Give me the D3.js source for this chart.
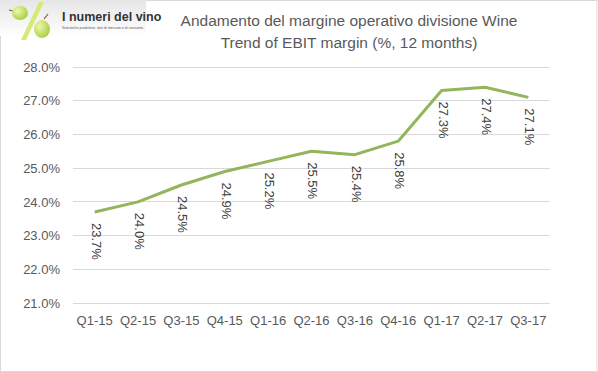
<!DOCTYPE html>
<html><head><meta charset="utf-8">
<script src="https://cdn.jsdelivr.net/npm/d3@7"></script>
<style>body{margin:0;background:#fff}svg{display:block}</style>
</head><body>
<svg id="c" width="598" height="372"></svg>
<script>
const categories = ["Q1-15","Q2-15","Q3-15","Q4-15","Q1-16","Q2-16","Q3-16","Q4-16","Q1-17","Q2-17","Q3-17"];
const values = [23.7, 24.0, 24.5, 24.9, 25.2, 25.5, 25.4, 25.8, 27.3, 27.4, 27.1];
const yTicks = [21, 22, 23, 24, 25, 26, 27, 28];
const titleLines = ["Andamento del margine operativo divisione Wine", "Trend of EBIT margin (%, 12 months)"];

const svg = d3.select("#c");
const W = 598, H = 372;
const m = {left: 73, right: 48, top: 67, bottom: 69};

svg.append("rect").attr("x",0.5).attr("y",0.5).attr("width",W-1.5).attr("height",H-1)
  .attr("fill","#fff").attr("stroke","#d9d9d9");

// logo
const defs = svg.append("defs");
const lg = defs.append("linearGradient").attr("id","lg").attr("x1",0).attr("x2",0).attr("y1",0).attr("y2",1);
lg.append("stop").attr("offset",0).attr("stop-color","#e6e6e6");
lg.append("stop").attr("offset",1).attr("stop-color","#ffffff");
const gg = defs.append("radialGradient").attr("id","gg").attr("cx",0.35).attr("cy",0.35).attr("r",0.7);
gg.append("stop").attr("offset",0).attr("stop-color","#eef7b0");
gg.append("stop").attr("offset",1).attr("stop-color","#a9cf3c");
const logo = svg.append("g");
logo.append("rect").attr("x",0).attr("y",0).attr("width",146).attr("height",36).attr("fill","url(#lg)");
logo.append("path").attr("d","M39,2 L44,2 L26,40 L21,40 Z").attr("fill","#d6ea7a");
logo.append("path").attr("d","M13,11 L9,10").attr("stroke","#7a5a2a").attr("stroke-width",1.2);
logo.append("ellipse").attr("cx",20).attr("cy",13).attr("rx",8).attr("ry",7).attr("fill","url(#gg)");
logo.append("path").attr("d","M44,19 L48,14").attr("stroke","#7a5a2a").attr("stroke-width",1.2);
logo.append("ellipse").attr("cx",42).attr("cy",29).attr("rx",8).attr("ry",9).attr("fill","url(#gg)");
logo.append("text").attr("x",62).attr("y",21).attr("font-family","Liberation Sans Narrow, Liberation Sans, sans-serif")
  .attr("font-size",12.5).attr("font-weight","bold").attr("fill","#333").text("I numeri del vino");
logo.append("text").attr("x",62).attr("y",29).attr("font-family","Liberation Sans, sans-serif")
  .attr("font-size",3.5).attr("fill","#555").attr("textLength",82).text("Statistiche produttive, dati di mercato e di consumo,");

// title
svg.append("g").selectAll("text").data(titleLines).join("text")
  .attr("x", 349).attr("y",(d,i)=>26+i*22).attr("text-anchor","middle")
  .attr("font-family","Liberation Sans, Arial, sans-serif").attr("font-size",15.5)
  .attr("fill","#595959").text(d=>d);

const x = d3.scaleBand().domain(categories).range([m.left, W - m.right]);
const y = d3.scaleLinear().domain([21, 28]).range([H - m.bottom, m.top]);

// grid
svg.append("g").selectAll("line").data(yTicks).join("line")
  .attr("x1", m.left).attr("x2", W - m.right)
  .attr("y1", d=>y(d)).attr("y2", d=>y(d))
  .attr("stroke","#d9d9d9").attr("stroke-width",1).attr("shape-rendering","crispEdges");

// y axis
const yAxis = svg.append("g").attr("transform",`translate(${m.left},0)`)
  .call(d3.axisLeft(y).tickValues(yTicks).tickFormat(d=>d3.format(".1f")(d)+"%").tickSize(0).tickPadding(13));
yAxis.select(".domain").remove();
yAxis.selectAll("text").attr("font-family","Liberation Sans, Arial, sans-serif").attr("font-size",13).attr("fill","#595959");

// x axis
const xAxis = svg.append("g").attr("transform",`translate(0,${H - m.bottom})`)
  .call(d3.axisBottom(x).tickSize(0).tickPadding(13));
xAxis.select(".domain").remove();
xAxis.selectAll("text").attr("font-family","Liberation Sans, Arial, sans-serif").attr("font-size",13).attr("fill","#595959");

// line
const cx = d => x(d) + x.bandwidth()/2;
svg.append("path").datum(values)
  .attr("d", d3.line().x((d,i)=>cx(categories[i])).y(d=>y(d)))
  .attr("fill","none").attr("stroke","#93b55b").attr("stroke-width",3).attr("stroke-linejoin","round");

// labels
svg.append("g").selectAll("text").data(values).join("text")
  .attr("transform",(d,i)=>`translate(${cx(categories[i])+1.5},${y(d)+11}) rotate(90)`)
  .attr("dy","0.35em").attr("text-anchor","start")
  .attr("font-family","Liberation Sans, Arial, sans-serif").attr("font-size",13).attr("fill","#404040")
  .text(d=>d3.format(".1f")(d)+"%");
</script>
</body></html>
